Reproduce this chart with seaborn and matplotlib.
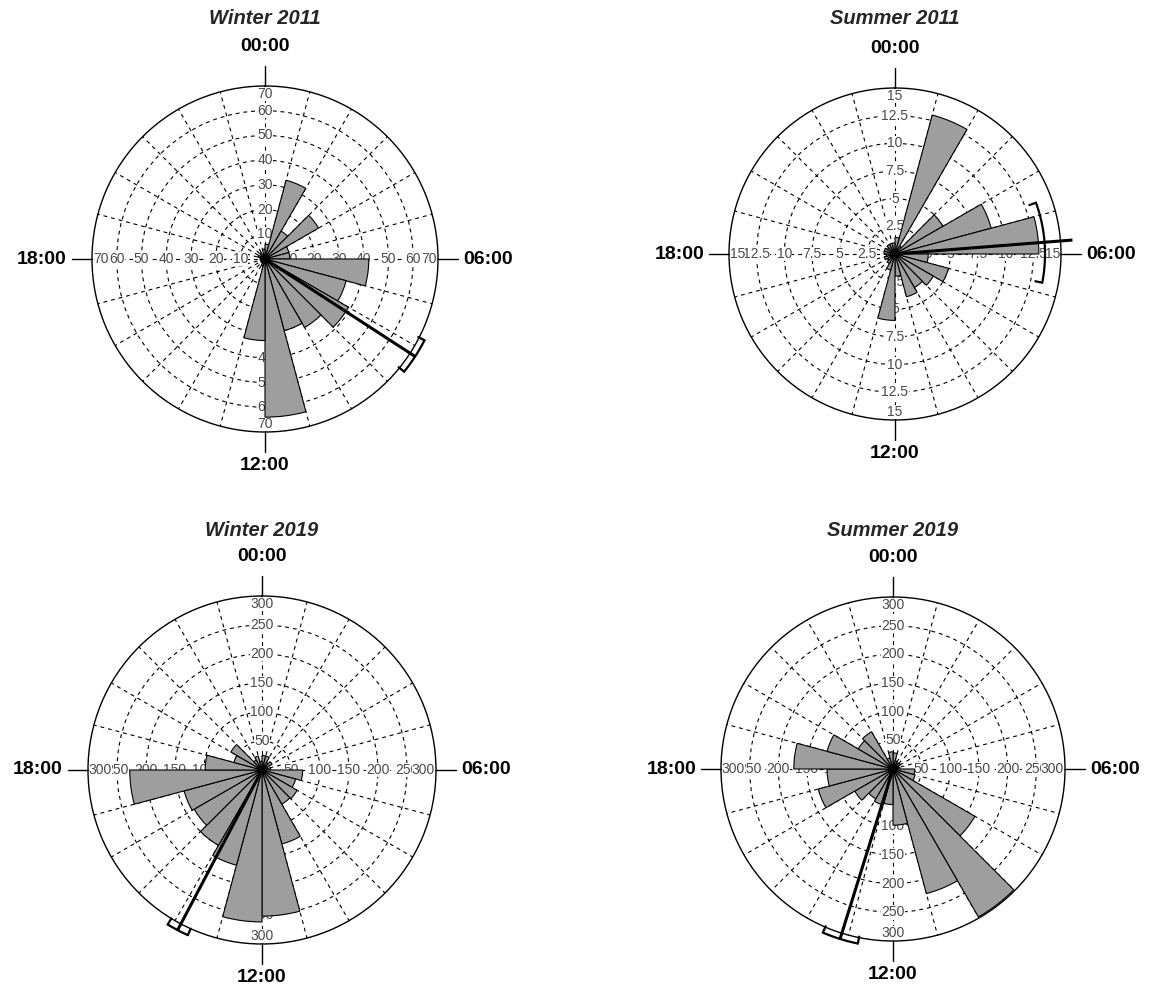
import numpy as np
import matplotlib
matplotlib.use("Agg")
import matplotlib.pyplot as plt
import seaborn as sns

# hourly counts, bin 0 = 00:00-01:00 ... bin 23 = 23:00-24:00
titles = ["Winter 2011", "Summer 2011", "Winter 2019", "Summer 2019"]

winter_2011 = [6, 33, 13, 25, 10, 10, 42, 34, 39, 32, 30, 64,
               33, 3, 2, 2, 1, 2, 2, 3, 2, 3, 2, 4]
summer_2011 = [1.5, 13, 0.8, 5, 9, 13, 3, 5, 4, 3.5, 4, 2,
               6, 1.5, 1, 0.8, 1, 0.8, 1, 1, 0.8, 1, 1, 1]
winter_2019 = [25, 25, 15, 20, 10, 15, 70, 60, 70, 68, 132, 252,
               262, 170, 150, 135, 139, 228, 98, 50, 62, 20, 25, 15]
summer_2019 = [28, 15, 12, 15, 10, 12, 38, 40, 165, 298, 225, 98,
               62, 65, 60, 77, 135, 115, 173, 119, 70, 75, 20, 30]

r_ticks_2011w = [10, 20, 30, 40, 50, 60, 70]
r_ticks_2011s = [2.5, 5, 7.5, 10, 12.5, 15]
r_ticks_2019 = [50, 100, 150, 200, 250, 300]

# mean direction (deg, clockwise from 00:00) and confidence interval
mean_deg = [123, 85.5, 207.8, 197.3]
ci_deg = [(117, 129), (70, 101), (204.2, 211.4), (191.4, 203.2)]

hour_labels = ["00:00", "06:00", "12:00", "18:00"]

series = [winter_2011, summer_2011, winter_2019, summer_2019]
ticks = [r_ticks_2011w, r_ticks_2011s, r_ticks_2019, r_ticks_2019]

sns.set_theme(style="white")
plt.rcParams['font.family'] = ['Liberation Sans', 'DejaVu Sans']

W, H = 1156, 989
fig = plt.figure(figsize=(W / 100, H / 100), dpi=100)

# panel centre x, y and radius in pixels, title y
panels = [(265, 259, 173), (895, 254, 166), (262, 770, 174), (893, 769, 172)]
title_y = [18, 18, 530, 530]
# radius of mean line end and of the CI bracket, pixels
line_px = [179, 178, 181, 178]
bracket_px = [179, 150, 181, 178]

bar_width = np.deg2rad(15)
theta = np.deg2rad(np.arange(24) * 15 + 7.5)


def fmt(v):
    return f"{v:g}"


for i in range(4):
    cx, cy, R = panels[i]
    vals = series[i]
    tk = ticks[i]
    rmax = tk[-1]
    k = rmax / R  # data units per pixel

    ax = fig.add_axes([(cx - R) / W, 1 - (cy + R) / H, 2 * R / W, 2 * R / H],
                      projection='polar')
    ax.set_theta_zero_location('N')
    ax.set_theta_direction(-1)
    ax.set_ylim(0, rmax)
    ax.set_xticks(np.deg2rad(np.arange(0, 360, 15)))
    ax.set_xticklabels([])
    ax.set_yticks(tk[:-1])
    ax.set_yticklabels([])
    ax.tick_params(length=0, pad=0)
    ax.set_axisbelow(True)
    ax.grid(True, color='black', linestyle=(0, (3.5, 3.5)), linewidth=0.8)
    ax.spines['polar'].set_linewidth(1.0)
    ax.spines['polar'].set_color('black')
    ax.set_facecolor('white')

    # radial value labels along the four main axes
    for d in [0, 90, 180, 270]:
        for v in tk:
            ha, va, r = 'center', 'center', v
            if v == rmax:
                r = rmax * 0.995
                if d == 0:
                    va = 'top'
                elif d == 180:
                    va = 'bottom'
                elif d == 90:
                    ha = 'right'
                else:
                    ha = 'left'
            ax.text(np.deg2rad(d), r, fmt(v), ha=ha, va=va, fontsize=10,
                    color='#4a4a4a', zorder=1.5,
                    bbox=dict(facecolor='white', edgecolor='none', pad=0.2))

    ax.bar(theta, vals, width=bar_width, bottom=0, color='#9e9e9e',
           edgecolor='black', linewidth=0.8, zorder=3)

    # outer hour ticks and labels
    for d, lab in zip([0, 90, 180, 270], hour_labels):
        t = np.deg2rad(d)
        ax.plot([t, t], [rmax, rmax + 20 * k], color='black', lw=1,
                clip_on=False, zorder=4)
        ha = {0: 'center', 90: 'left', 180: 'center', 270: 'right'}[d]
        va = {0: 'bottom', 90: 'center', 180: 'top', 270: 'center'}[d]
        off = 31 if d == 0 else 25
        ax.text(t, rmax + off * k, lab, ha=ha, va=va, fontsize=14,
                fontweight='bold', color='black', clip_on=False)

    # mean vector with confidence bracket
    tm = np.deg2rad(mean_deg[i])
    ax.plot([tm, tm], [0, line_px[i] * k], color='black', lw=2.2,
            clip_on=False, zorder=5, solid_capstyle='butt')
    rb = bracket_px[i] * k
    c0, c1 = np.deg2rad(ci_deg[i][0]), np.deg2rad(ci_deg[i][1])
    arc = np.linspace(c0, c1, 60)
    ax.plot(arc, np.full_like(arc, rb), color='black', lw=1.6,
            clip_on=False, zorder=5)
    for c in (c0, c1):
        ax.plot([c, c], [rb, rb - 7 * k], color='black', lw=1.6,
                clip_on=False, zorder=5)

    fig.text(cx / W, 1 - title_y[i] / H, titles[i], ha='center', va='center',
             fontsize=14.5, fontweight='bold', fontstyle='italic')

fig.savefig('out.png', dpi=100, facecolor='white')
